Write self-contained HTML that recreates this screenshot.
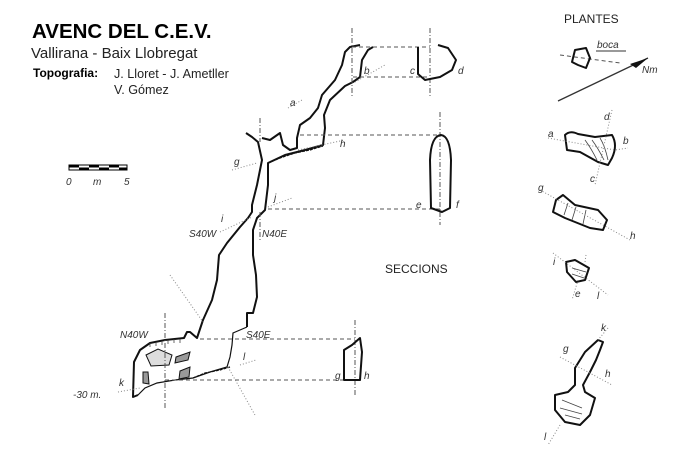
<!DOCTYPE html>
<html><head><meta charset="utf-8"><style>
html,body{margin:0;padding:0;background:#fff;}
svg{display:block}
text{font-family:"Liberation Sans",sans-serif;}
.it{font-style:italic;font-size:10px;fill:#333}
.w{fill:none;stroke:#111;stroke-width:2;stroke-linejoin:round}
.t{fill:none;stroke:#111;stroke-width:1.2}
.d{fill:none;stroke:#555;stroke-width:1;stroke-dasharray:4,3}
.dd{fill:none;stroke:#555;stroke-width:1;stroke-dasharray:5,2,1,2}
.o{fill:none;stroke:#888;stroke-width:1;stroke-dasharray:1,2}
.h{fill:none;stroke:#444;stroke-width:0.8}
</style></head><body>
<svg width="691" height="468" viewBox="0 0 691 468" xmlns="http://www.w3.org/2000/svg">
<rect width="691" height="468" fill="#fff"/>
<text x="32" y="38" font-size="20.5" font-weight="bold" fill="#000">AVENC DEL C.E.V.</text>
<text x="31" y="58" font-size="15" fill="#222">Vallirana - Baix Llobregat</text>
<text x="33" y="77" font-size="12" font-weight="bold" fill="#000">Topografia:</text>
<text x="114" y="78" font-size="12.6" fill="#222">J. Lloret - J. Ametller</text>
<text x="114" y="94" font-size="12.6" fill="#222">V. Gómez</text>
<!-- scale -->
<rect x="69" y="165" width="58" height="5" fill="#fff" stroke="#000" stroke-width="1"/>
<rect x="69" y="165" width="10" height="2.5" fill="#000"/><rect x="89" y="165" width="10" height="2.5" fill="#000"/><rect x="109" y="165" width="10" height="2.5" fill="#000"/>
<rect x="79" y="167.5" width="10" height="2.5" fill="#000"/><rect x="99" y="167.5" width="10" height="2.5" fill="#000"/><rect x="119" y="167.5" width="8" height="2.5" fill="#000"/>
<text x="66" y="185" class="it">0</text><text x="93" y="185" class="it">m</text><text x="124" y="185" class="it">5</text>

<!-- main profile -->
<path class="w" d="M246,133 L252,137 L258,142 L262,160 L257,185 L252,205 L252,212 L248,218 L240,227 L227,243 L219,255 L217,280 L212,300 L203,320 L197,338 L190,332 L187,332 L184,338 L165,340 L150,343 L140,350 L134,362 L133,397 L138,395"/>
<path class="h" d="M150,343 l0,4 M156,342 l0,4 M162,341 l0,4 M168,340 l0,4 M174,339 l0,4 M180,339 l0,4"/>
<path class="t" d="M138,395 L145,388 L157,383 L175,380 L193,378 L210,372 L227,367 L230,357 L232,345 L233,333 L240,330 L247,327"/>
<path class="w" d="M247,327 L247,313 L253,313 L257,297 L256,275 L253,255 L253,230 L257,218 L265,210 L268,185 L268,163 L285,155 L305,150 L323,145 L325,128 L324,115 L330,100 L345,86 L353,82 L360,77 L362,60 L368,50 L373,47"/>
<path class="w" d="M262,138 L270,140 L280,133 L283,145 L290,150 L297,148 L297,138 L300,125 L310,118 L318,108 L322,95 L335,80 L342,65 L345,52 L350,47 L360,45"/>
<path class="t" d="M268,163 L280,158 L295,153 L310,150 L323,146" stroke-dasharray="3,1"/>
<path class="t" d="M193,378 L205,373 L220,370 L230,367" stroke-dasharray="3,1"/>
<path d="M146,355 l12,-6 l14,6 l-3,10 l-18,1 z" fill="#ddd" stroke="#111"/>
<path d="M176,357 l14,-5 l-2,8 l-13,3 z M180,371 l10,-4 l-1,10 l-10,2 z M143,372 l5,0 l1,12 l-6,-1 z" fill="#999" stroke="#111"/>
<!-- section lines -->
<path class="dd" d="M352,28 V97 M430,28 V97 M440,112 V225 M355,320 V395 M165,313 V408 M260,118 V142 M260,212 V240"/>
<path class="d" d="M352,47 H430 M353,77 H430 M300,135 H440 M268,209 H440 M200,339 H355 M165,380 H352"/>
<path class="o" d="M288,108 L302,100 M298,150 L345,140 M232,170 L257,163 M220,232 L252,217 M268,207 L292,198 M355,82 L385,65 M170,275 L203,322 M228,367 L255,415 M240,365 L256,360 M118,392 L140,388"/>
<!-- sections -->
<path class="w" d="M418,47 L418,74 L425,80 L440,77 L452,70 L456,60 L448,48 L438,45"/>
<path class="w" d="M431,208 L430,160 Q431,136 441,135 Q450,136 451,160 L450,208 L442,212 Z"/>
<path class="w" d="M344,380 L344,350 L352,345 L360,338 L362,352 L360,380 Z"/>
<!-- labels -->
<text x="290" y="106" class="it">a</text><text x="364" y="74" class="it">b</text><text x="410" y="74" class="it">c</text><text x="458" y="74" class="it">d</text>
<text x="340" y="147" class="it">h</text><text x="234" y="165" class="it">g</text><text x="221" y="222" class="it">i</text><text x="274" y="201" class="it">j</text>
<text x="416" y="208" class="it">e</text><text x="456" y="208" class="it">f</text>
<text x="189" y="237" class="it">S40W</text><text x="262" y="237" class="it">N40E</text>
<text x="120" y="338" class="it">N40W</text><text x="246" y="338" class="it">S40E</text>
<text x="119" y="386" class="it">k</text><text x="73" y="398" class="it">-30 m.</text><text x="243" y="360" class="it">l</text>
<text x="335" y="379" class="it">g</text><text x="364" y="379" class="it">h</text>
<text x="385" y="273" font-size="12" fill="#222">SECCIONS</text>
<text x="564" y="23" font-size="12" fill="#222">PLANTES</text>
<!-- plans -->
<path class="d" d="M560,55 L620,63"/>
<path class="w" d="M575,50 L586,48 L590,58 L586,68 L578,65 L572,62 Z"/>
<text x="597" y="48" class="it">boca</text><path d="M596,51 H626" stroke="#333"/>
<path d="M558,101 L648,58" stroke="#333" stroke-width="1.3"/><path d="M630,64 L648,58 L636,68 Z" fill="#111"/>
<text x="642" y="73" class="it">Nm</text>
<path class="w" d="M565,135 Q570,130 578,134 L595,137 L612,135 Q618,145 612,158 L608,165 L598,162 L580,152 L567,150 Z"/>
<path class="h" d="M585,140 q6,8 12,20 M592,140 q6,8 12,20 M600,138 q5,8 8,22"/>
<path class="o" d="M548,138 L615,150 L628,148 M612,110 L595,185"/>
<text x="548" y="137" class="it">a</text><text x="623" y="144" class="it">b</text><text x="604" y="120" class="it">d</text><text x="590" y="182" class="it">c</text>
<path class="w" d="M556,200 L563,195 L575,205 L598,210 L607,220 L603,230 L590,228 L565,218 L553,212 Z"/>
<path class="h" d="M568,203 l-4,12 M576,207 l-4,13 M586,210 l-3,14"/>
<path class="o" d="M540,190 L630,240"/>
<text x="538" y="191" class="it">g</text><text x="630" y="239" class="it">h</text>
<path class="w" d="M566,262 L575,260 L589,268 L585,280 L576,282 L567,272 Z"/>
<path class="h" d="M572,268 l14,4 M572,274 l12,4"/>
<path class="o" d="M553,253 L608,295 M578,280 L572,300 M586,255 L585,262"/>
<text x="553" y="265" class="it">i</text><text x="575" y="297" class="it">e</text><text x="597" y="299" class="it">l</text>
<path class="w" d="M598,340 L603,342 L600,350 L596,360 L590,372 L583,385 L585,392 L595,398 L590,415 L580,425 L565,422 L555,410 L555,395 L568,392 L575,385 L575,368 L585,352 Z"/>
<path class="h" d="M562,400 l20,8 M560,408 l22,6 M565,415 l15,4"/>
<path class="o" d="M608,328 L598,340 M560,357 L612,385 M560,425 L548,445"/>
<text x="601" y="331" class="it">k</text><text x="563" y="352" class="it">g</text><text x="605" y="377" class="it">h</text><text x="544" y="440" class="it">l</text>
</svg>
</body></html>
